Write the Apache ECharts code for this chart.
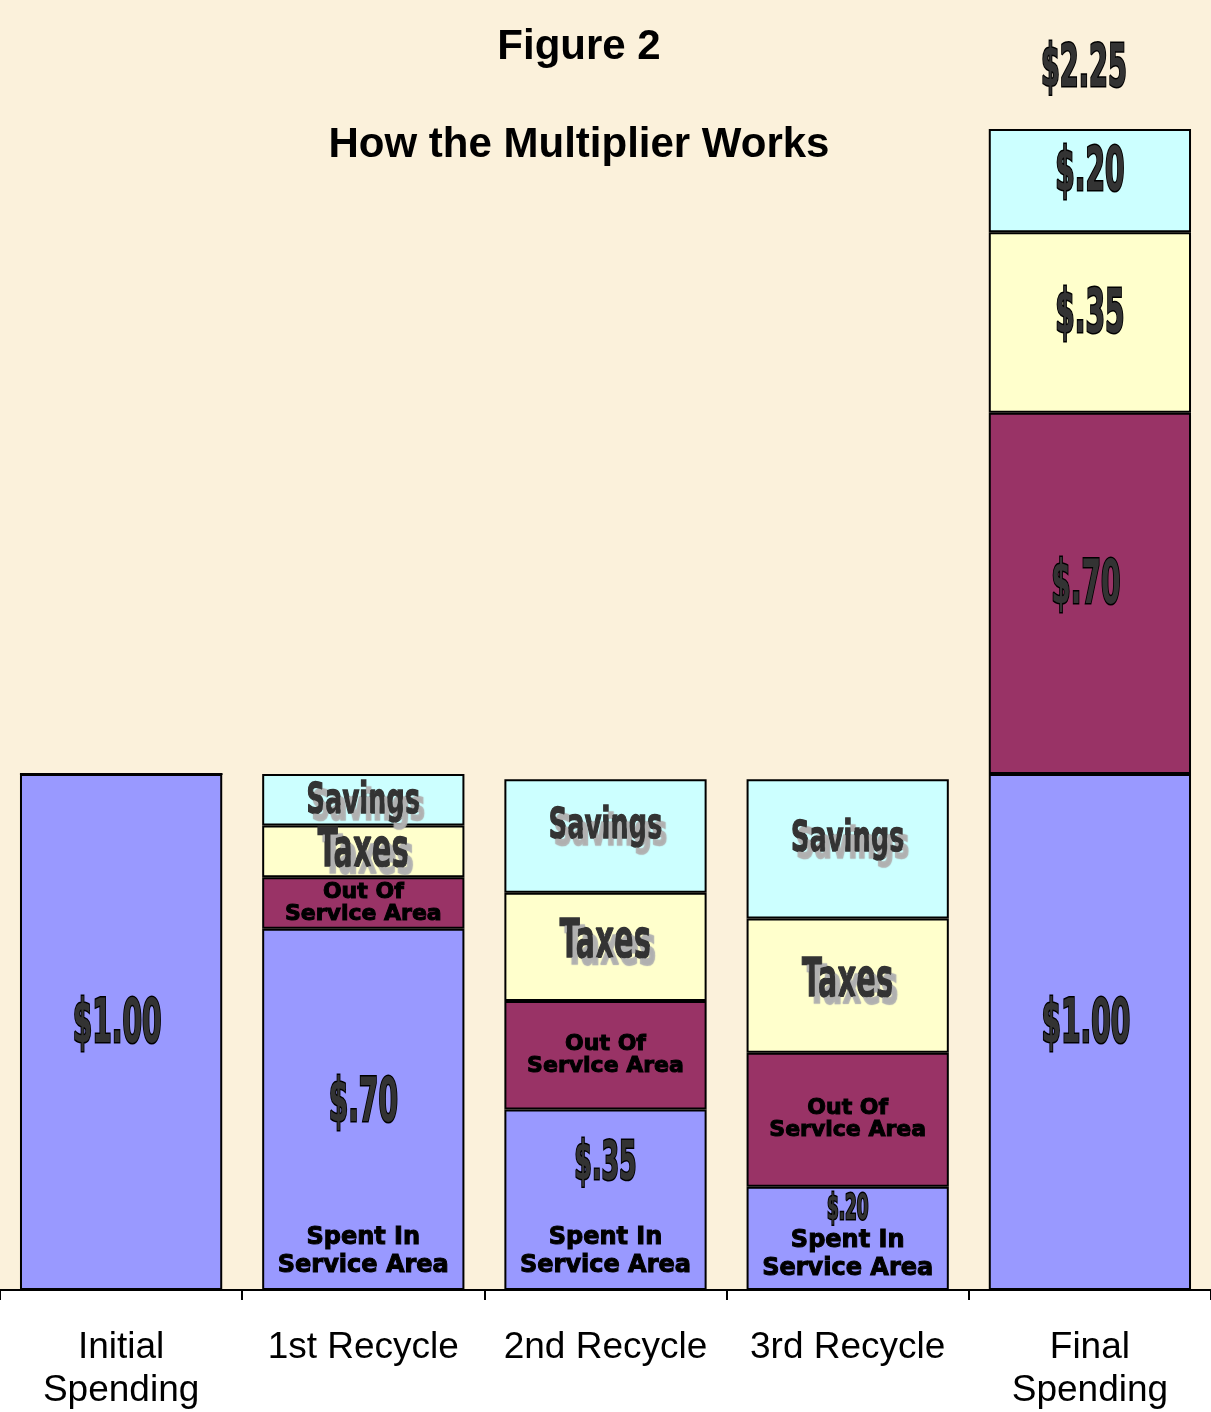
<!DOCTYPE html>
<html>
<head>
<meta charset="utf-8">
<title>Figure 2 - How the Multiplier Works</title>
<script src="https://cdn.jsdelivr.net/npm/echarts@6/dist/echarts.min.js"></script>
<style>
  html, body { margin: 0; padding: 0; background: #fff; }
  #chart { width: 1211px; height: 1412px; }
</style>
</head>
<body>
<div id="chart"></div>
<script>
// values (dollars per $1 of initial spending)
const categories = ["Initial\nSpending", "1st Recycle", "2nd Recycle", "3rd Recycle", "Final\nSpending"];
const spentInArea = [1.00, 0.70, 0.35, 0.20, 1.00];
const outOfArea = [0, 0.10, 0.21, 0.26, 0.70];
const taxes = [0, 0.10, 0.21, 0.26, 0.35];
const savings = [0, 0.10, 0.22, 0.27, 0.20];
const totals = categories.map((c, i) => spentInArea[i] + outOfArea[i] + taxes[i] + savings[i]);

const FINAL = categories.length - 1;
const money = v => { const s = v.toFixed(2); return "$" + (v < 1 ? s.slice(1) : s); };

const colors = { spent: "#9999FF", out: "#993366", taxes: "#FFFFCC", savings: "#CCFFFF" };
const condFont = "'DejaVu Sans Condensed', 'DejaVu Sans', sans-serif";
const wideFont = "'DejaVu Sans', sans-serif";

// squeezed heavy numerals, like the original's condensed face
function amount(text, x, y, size) {
  return {
    type: "text", x: x, y: y, scaleX: 0.52, silent: true,
    style: {
      text: text, font: "bold " + size + "px " + condFont,
      fill: "#333", stroke: "#000", lineWidth: 3,
      align: "center", verticalAlign: "middle"
    }
  };
}
// word with grey drop shadow ("Savings", "Taxes")
function word(text, x, y, size, squeeze) {
  return {
    type: "text", x: x, y: y, scaleX: squeeze, silent: true,
    style: {
      text: text, font: "bold " + size + "px " + condFont,
      fill: "#333", stroke: "#333", lineWidth: 1.5,
      align: "center", verticalAlign: "middle",
      textShadowColor: "#b0b0b0", textShadowBlur: 1, textShadowOffsetX: 5, textShadowOffsetY: 7
    }
  };
}
function areaText(text, x, y, vAlign, size, lh) {
  return {
    type: "text", x: x, y: y, silent: true,
    style: {
      text: text, font: "bold " + size + "px " + wideFont, lineHeight: lh,
      fill: "#000", stroke: "#000", lineWidth: 1,
      align: "center", verticalAlign: vAlign
    }
  };
}

function renderLabels(params, api) {
  const i = api.value(0);
  const xc = api.coord([i, 0])[0];
  const py = v => api.coord([i, v])[1];
  let base = 0;
  const segs = [spentInArea[i], outOfArea[i], taxes[i], savings[i]].map(v => {
    const b = { v: v, bot: py(base), top: py(base + v) };
    b.mid = (b.bot + b.top) / 2;
    b.h = b.bot - b.top;
    base += v;
    return b;
  });
  const children = [];
  if (i === 0 || i === FINAL) {
    segs.forEach(s => { if (s.v) children.push(amount(money(s.v), xc + (s.h > 250 ? -4 : 0), s.mid - 6, 60)); });
    if (i === FINAL) children.push(amount(money(totals[i]), xc - 6, py(totals[i]) - 58, 58));
  } else {
    const sp = segs[0];
    const small = sp.h < 150;
    children.push(areaText("Spent In\nService Area", xc, sp.bot - (small ? 7 : 10), "bottom", 24, 28));
    let ay, size;
    if (sp.h > 250) { ay = sp.mid - 4; size = 60; }
    else if (!small) { ay = (sp.top + sp.bot - 69) / 2; size = 54; }
    else { ay = sp.top + 23; size = 36; }
    children.push(amount(money(sp.v), xc, ay, size));
    children.push(areaText("Out Of\nService Area", xc, segs[1].mid, "middle", 22, 22));
    const thin = segs[2].h < 80;
    children.push(word("Taxes", xc, segs[2].mid - (thin ? -1 : 4), 54, 0.6));
    children.push(word("Savings", xc, segs[3].mid - (thin ? -2 : 9), 42, 0.68));
  }
  return { type: "group", children: children };
}

const barCommon = {
  type: "bar",
  stack: "total",
  barCategoryGap: "16.5%",
  silent: true,
  itemStyle: { borderColor: "#000", borderWidth: 2 }
};

const chart = echarts.init(document.getElementById("chart"));
chart.setOption({
  backgroundColor: "#fff",
  animation: false,
  graphic: [
    { type: "text", x: 579, y: 47, style: { text: "Figure 2", align: "center", verticalAlign: "middle", font: "bold 42px 'Liberation Sans', Arial, sans-serif", fill: "#000" } },
    { type: "text", x: 579, y: 145, style: { text: "How the Multiplier Works", align: "center", verticalAlign: "middle", font: "bold 42px 'Liberation Sans', Arial, sans-serif", fill: "#000" } }
  ],
  grid: { left: 0, right: 0, top: 0, bottom: 118, show: true, backgroundColor: "#FBF1DB", borderWidth: 0 },
  xAxis: {
    type: "category",
    data: categories,
    axisLine: { lineStyle: { color: "#000", width: 2 } },
    axisTick: { show: true, length: 10, lineStyle: { color: "#000", width: 2 } },
    axisLabel: {
      interval: 0,
      margin: 36,
      color: "#000",
      fontFamily: "'Liberation Sans', Arial, sans-serif",
      fontSize: 37,
      lineHeight: 43
    }
  },
  yAxis: { type: "value", min: 0, max: 2.5, show: false, splitLine: { show: false } },
  series: [
    { ...barCommon, name: "Spent In Service Area", itemStyle: { ...barCommon.itemStyle, color: colors.spent }, data: spentInArea },
    { ...barCommon, name: "Out Of Service Area", itemStyle: { ...barCommon.itemStyle, color: colors.out }, data: outOfArea },
    { ...barCommon, name: "Taxes", itemStyle: { ...barCommon.itemStyle, color: colors.taxes }, data: taxes },
    { ...barCommon, name: "Savings", itemStyle: { ...barCommon.itemStyle, color: colors.savings }, data: savings },
    {
      type: "custom",
      name: "labels",
      coordinateSystem: "cartesian2d",
      silent: true,
      z: 10,
      encode: { x: 0, y: 1 },
      data: categories.map((c, i) => [i, 0]),
      renderItem: renderLabels
    }
  ]
});
</script>
</body>
</html>
